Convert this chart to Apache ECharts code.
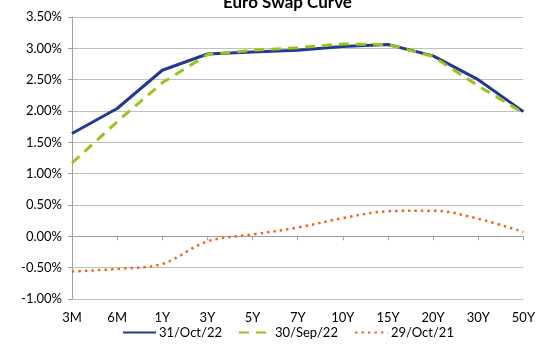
<!DOCTYPE html>
<html><head><meta charset="utf-8">
<script src="https://cdn.jsdelivr.net/npm/echarts@6/dist/echarts.min.js"></script>
<style>html,body{margin:0;padding:0;background:#fff}#c{width:538px;height:345px}</style>
</head><body><div id="c"></div>
<script>
const categories = ['3M','6M','1Y','3Y','5Y','7Y','10Y','15Y','20Y','30Y','50Y'];
const oct22 = [1.64, 2.04, 2.65, 2.91, 2.94, 2.97, 3.03, 3.06, 2.88, 2.50, 1.99];
const sep22 = [1.17, 1.83, 2.45, 2.90, 2.97, 3.01, 3.07, 3.06, 2.87, 2.40, 1.97];
const oct21 = [-0.56, -0.52, -0.44, -0.08, 0.03, 0.14, 0.29, 0.40, 0.41, 0.28, 0.07];
const seriesNames = ['31/Oct/22', '30/Sep/22', '29/Oct/21'];
const yTicks = {min: -1, max: 3.5, interval: 0.5};

const font = 'Lato, "Noto Sans", sans-serif';
const chart = echarts.init(document.getElementById('c'));
chart.setOption({
  animation: false,
  title: {text: 'Euro Swap Curve', left: 218, top: -11,
    textStyle: {fontFamily: font, fontSize: 17, fontWeight: 'bold', color: '#000'}},
  grid: {left: 72, right: 12, top: 17, bottom: 46},
  legend: {bottom: 1, left: 117, itemWidth: 33, itemHeight: 12, itemGap: 16,
    textStyle: {fontFamily: font, fontSize: 13, color: '#000', padding: [0, 0, 0, -2]},
    itemStyle: {opacity: 0},
    data: seriesNames},
  xAxis: [
    {type: 'category', data: categories, boundaryGap: false,
      axisLine: {onZero: true, lineStyle: {color: '#A0A0A0', width: 1}},
      axisTick: {show: true, inside: false, length: 4, lineStyle: {color: '#A0A0A0'}},
      axisLabel: {show: false}, splitLine: {show: false}},
    {type: 'category', data: categories, boundaryGap: false, position: 'bottom',
      axisLine: {show: false, onZero: false}, axisTick: {show: false},
      axisLabel: {fontFamily: font, fontSize: 13, color: '#000', margin: 12},
      splitLine: {show: false}}
  ],
  yAxis: {type: 'value', min: yTicks.min, max: yTicks.max, interval: yTicks.interval,
    axisLine: {show: true, lineStyle: {color: '#A0A0A0'}},
    axisTick: {show: true, length: 4, lineStyle: {color: '#A0A0A0'}},
    axisLabel: {fontFamily: font, fontSize: 13, color: '#000', margin: 10,
      formatter: v => v.toFixed(2) + '%'},
    splitLine: {lineStyle: {color: '#C0C0C0', width: 1}}},
  series: [
    {name: seriesNames[0], type: 'line', data: oct22, symbol: 'none', z: 3,
      lineStyle: {color: '#233A8E', width: 3}, itemStyle: {color: '#233A8E'}},
    {name: seriesNames[1], type: 'line', data: sep22, symbol: 'none', z: 4,
      lineStyle: {color: '#9BC31B', width: 3, type: [10, 7]}, itemStyle: {color: '#9BC31B'}},
    {name: seriesNames[2], type: 'line', data: oct21, symbol: 'none', smooth: 0.35, z: 2,
      lineStyle: {color: '#F7631E', width: 2.5, type: [2.5, 4], cap: 'butt'}, itemStyle: {color: '#F7631E'}}
  ]
});
</script></body></html>
